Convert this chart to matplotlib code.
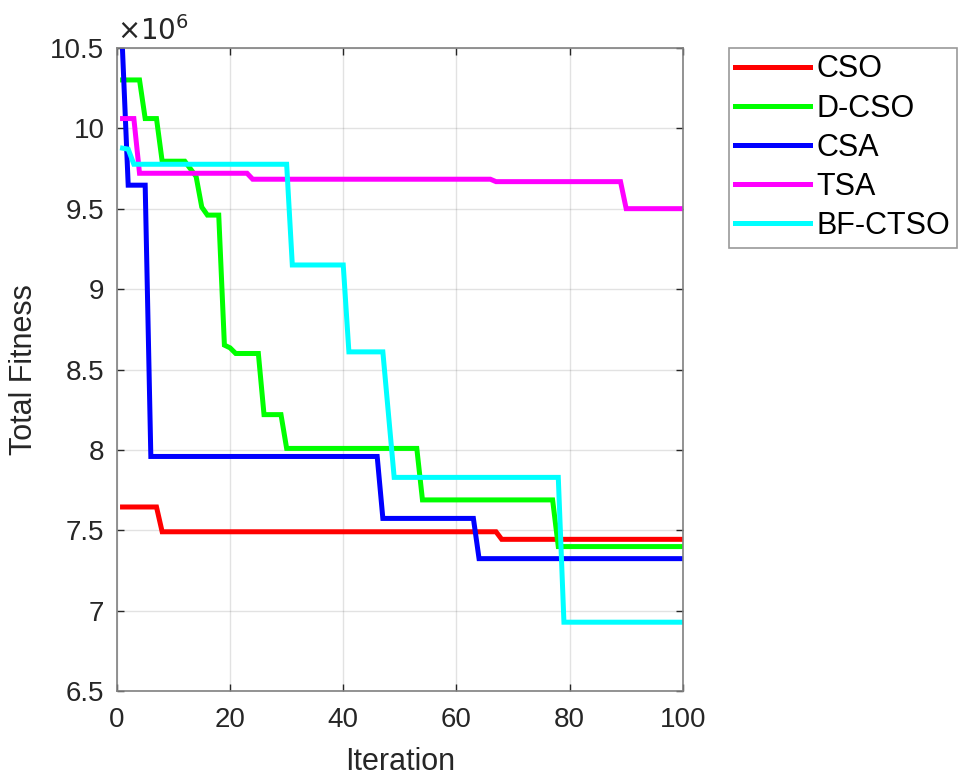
import matplotlib
matplotlib.use("Agg")
import matplotlib.pyplot as plt
from matplotlib.ticker import FuncFormatter, MultipleLocator

plt.rcParams['font.family'] = ['Liberation Sans', 'DejaVu Sans']

# ---- data (iteration vertices, total fitness) ----
cso_iter = [1, 7, 8, 67, 68, 100]
cso_val = [7.646e6, 7.646e6, 7.492e6, 7.492e6, 7.445e6, 7.445e6]

dcso_iter = [1, 4, 5, 7, 8, 12, 14, 15, 16, 18, 19, 20, 21, 25, 26, 29, 30, 53, 54, 77, 78, 100]
dcso_val = [10.30e6, 10.30e6, 10.06e6, 10.06e6, 9.795e6, 9.795e6, 9.70e6, 9.51e6, 9.46e6, 9.46e6,
            8.652e6, 8.635e6, 8.60e6, 8.60e6, 8.22e6, 8.22e6, 8.01e6, 8.01e6, 7.69e6, 7.69e6,
            7.40e6, 7.40e6]

csa_iter = [1, 2, 5, 6, 46, 47, 63, 64, 100]
csa_val = [10.48e6, 9.646e6, 9.646e6, 7.96e6, 7.96e6, 7.575e6, 7.575e6, 7.325e6, 7.325e6]

tsa_iter = [1, 3, 4, 23, 24, 66, 67, 89, 90, 100]
tsa_val = [10.06e6, 10.06e6, 9.72e6, 9.72e6, 9.683e6, 9.683e6, 9.668e6, 9.668e6, 9.50e6, 9.50e6]

bf_iter = [1, 2, 3, 30, 31, 40, 41, 47, 49, 78, 79, 100]
bf_val = [9.876e6, 9.87e6, 9.776e6, 9.776e6, 9.15e6, 9.15e6, 8.61e6, 8.61e6, 7.83e6, 7.83e6,
          6.93e6, 6.93e6]

labels = ['CSO', 'D-CSO', 'CSA', 'TSA', 'BF-CTSO']
colors = ['#ff0000', '#00ff00', '#0000ff', '#ff00ff', '#00ffff']
series = [(cso_iter, cso_val), (dcso_iter, dcso_val), (csa_iter, csa_val),
          (tsa_iter, tsa_val), (bf_iter, bf_val)]

txt = '#262626'
fig = plt.figure(figsize=(9.74, 7.83), dpi=100)
ax = fig.add_axes([0.120, 0.117, 0.581, 0.822])

for (xs, ys), lab, c in zip(series, labels, colors):
    ax.plot(xs, ys, color=c, lw=3.6, label=lab, solid_joinstyle='miter')

ax.set_xlim(0, 100)
ax.set_ylim(6.5e6, 10.5e6)
ax.xaxis.set_major_locator(MultipleLocator(20))
ax.yaxis.set_major_locator(MultipleLocator(0.5e6))
ax.yaxis.set_major_formatter(FuncFormatter(lambda v, p: '%g' % (v / 1e6)))
ax.grid(True, color='#262626', alpha=0.13, lw=1.0)
ax.set_axisbelow(True)
ax.tick_params(direction='in', top=True, right=True, length=5, width=1,
               labelsize=20, colors='#262626', labelcolor=txt)
ax.tick_params(axis='x', pad=11)
ax.tick_params(axis='y', pad=9)
for s in ax.spines.values():
    s.set_color('#808080')
    s.set_linewidth(1.2)

ax.text(0.0, 1.003, r'$\times10^{6}$', transform=ax.transAxes, fontsize=20,
        color=txt, ha='left', va='bottom')

ax.set_xlabel('Iteration', fontsize=22, color=txt, labelpad=10)
ax.set_ylabel('Total Fitness', fontsize=22, color=txt, labelpad=8)

leg = fig.legend(loc='upper left', bbox_to_anchor=(0.748, 0.939), fontsize=22,
                 frameon=True, fancybox=False, edgecolor='#808080',
                 handlelength=2.45, handletextpad=0.2, labelspacing=0.3,
                 borderpad=0.22, borderaxespad=0.0)
leg.get_frame().set_linewidth(1.2)
for t in leg.get_texts():
    t.set_color('#000000')

fig.savefig('out.png', dpi=100, facecolor='white')
